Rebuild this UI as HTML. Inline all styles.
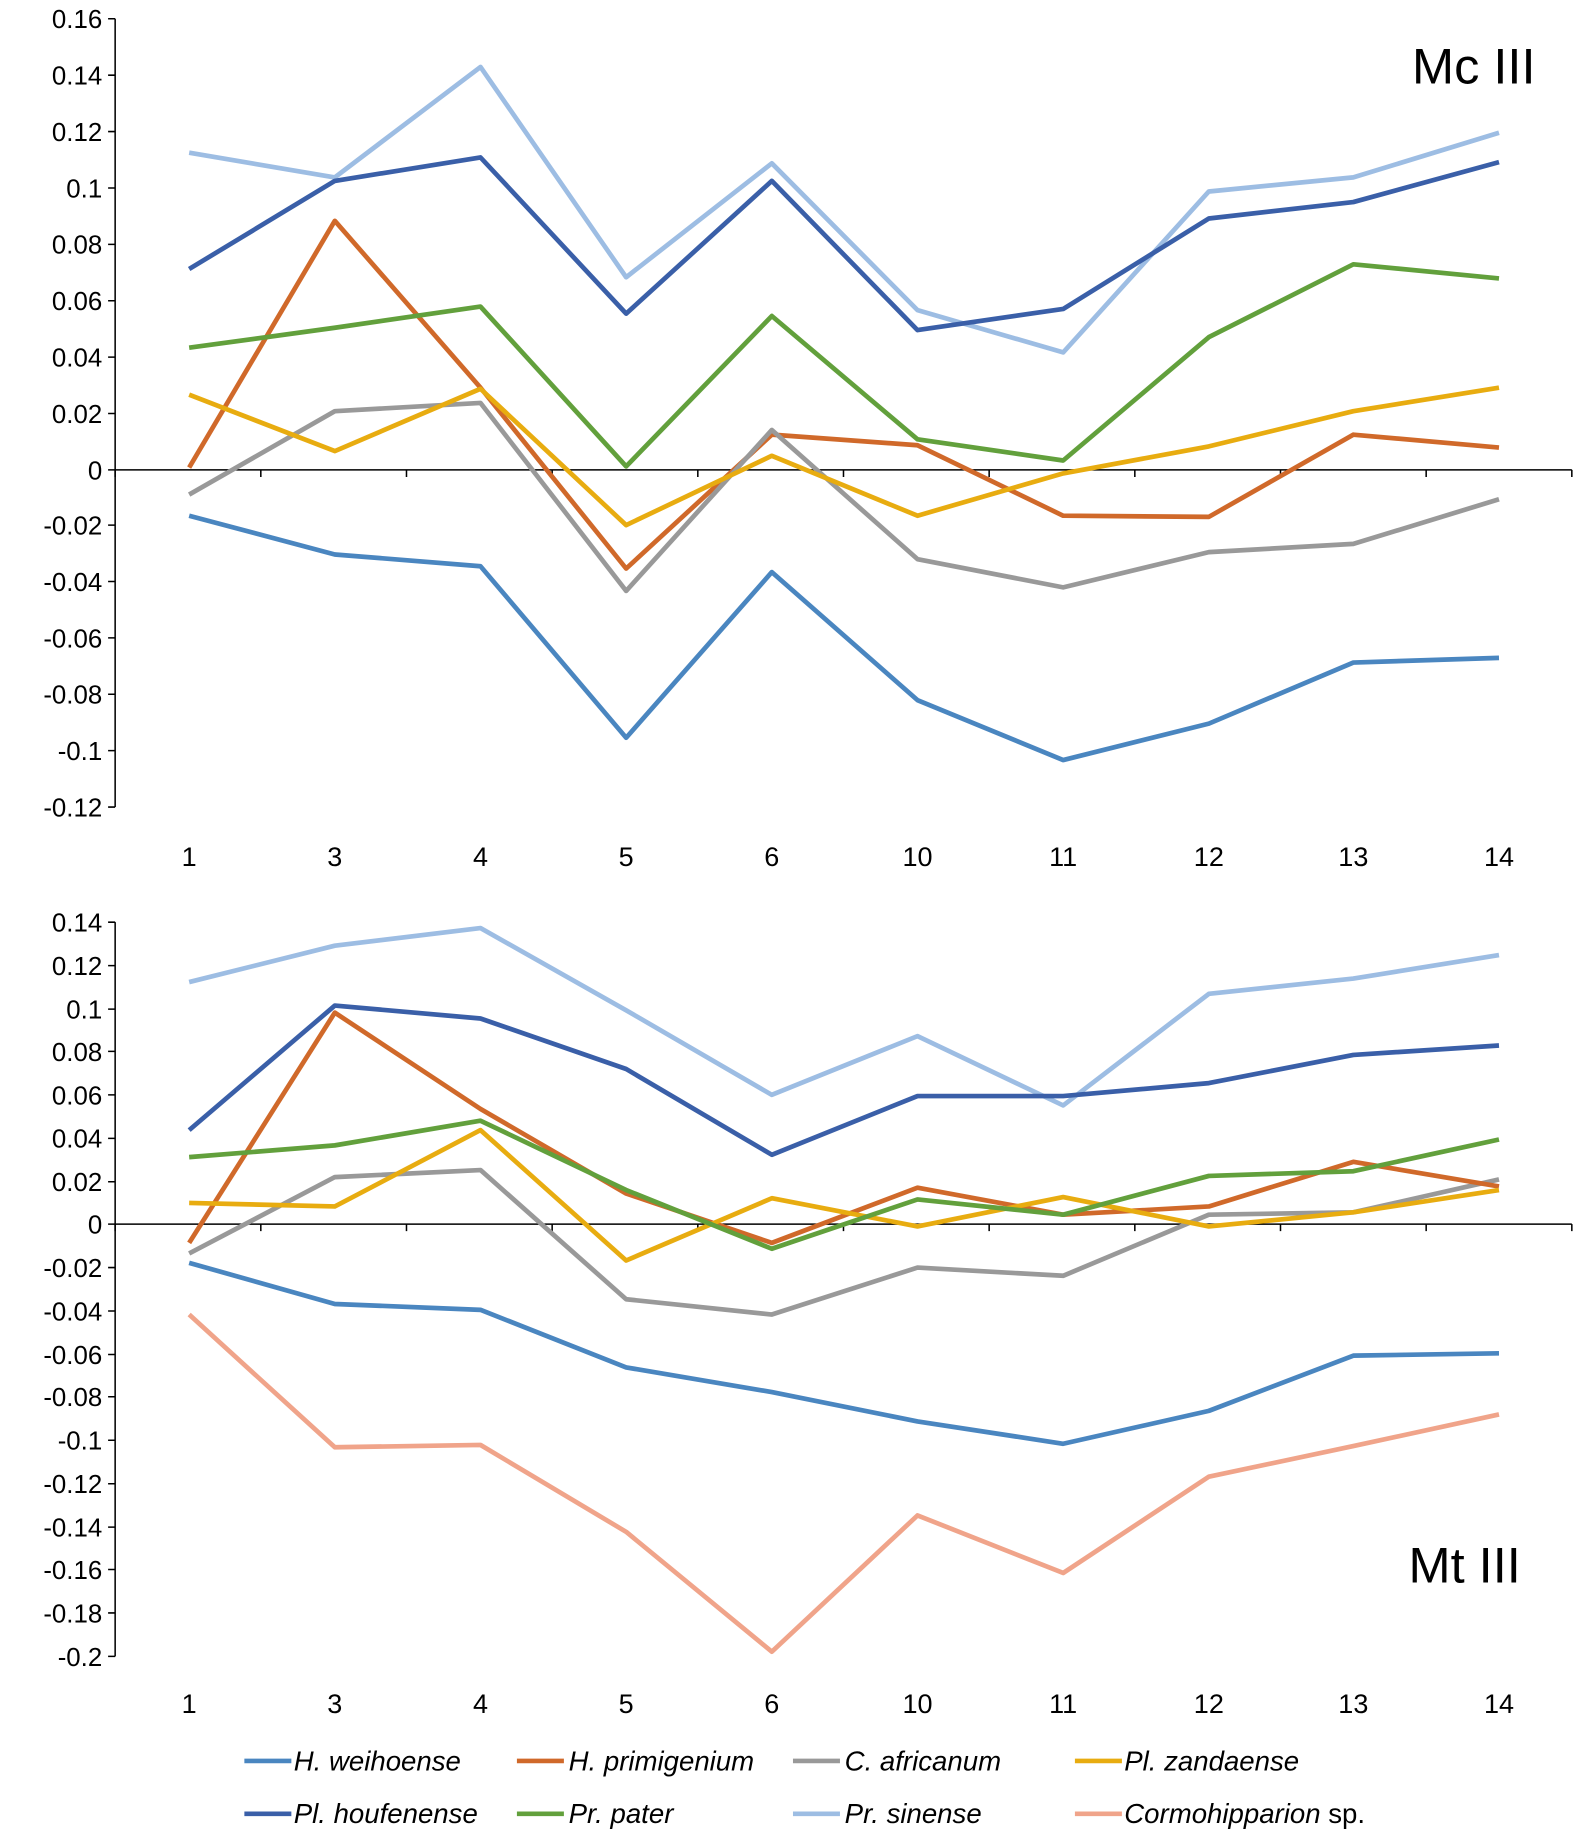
<!DOCTYPE html>
<html><head><meta charset="utf-8"><style>html,body{margin:0;padding:0;background:#fff}svg{display:block}</style></head>
<body>
<svg width="1593" height="1842" viewBox="0 0 1356 1568" xmlns="http://www.w3.org/2000/svg" font-family="Liberation Sans, sans-serif">
<g stroke="#000" stroke-width="1.3" fill="none">
<line x1="98" y1="16" x2="98" y2="687"/>
<line x1="98" y1="400" x2="1338" y2="400"/>
<line x1="98" y1="785" x2="98" y2="1410"/>
<line x1="98" y1="1042" x2="1338" y2="1042"/>
</g>
<g stroke="#000" stroke-width="1.3">
<path d="M92 16h6M92 64h6M92 112h6M92 160h6M92 208h6M92 256h6M92 304h6M92 352h6M92 400h6M92 447h6M92 495h6M92 543h6M92 591h6M92 639h6M92 687h6"/>
<path d="M98 400v6M222 400v6M346 400v6M470 400v6M594 400v6M718 400v6M842 400v6M966 400v6M1090 400v6M1214 400v6M1338 400v6"/>
<path d="M92 785h6M92 822h6M92 859h6M92 895h6M92 932h6M92 969h6M92 1006h6M92 1042h6M92 1079h6M92 1116h6M92 1153h6M92 1189h6M92 1226h6M92 1263h6M92 1300h6M92 1336h6M92 1373h6M92 1410h6"/>
<path d="M98 1042v6M222 1042v6M346 1042v6M470 1042v6M594 1042v6M718 1042v6M842 1042v6M966 1042v6M1090 1042v6M1214 1042v6M1338 1042v6"/>
</g>
<g font-size="22" text-anchor="end" fill="#000">
<text x="87" y="24">0.16</text><text x="87" y="72">0.14</text><text x="87" y="120">0.12</text><text x="87" y="168">0.1</text><text x="87" y="216">0.08</text><text x="87" y="264">0.06</text><text x="87" y="312">0.04</text><text x="87" y="360">0.02</text><text x="87" y="408">0</text><text x="87" y="455">-0.02</text><text x="87" y="503">-0.04</text><text x="87" y="551">-0.06</text><text x="87" y="599">-0.08</text><text x="87" y="647">-0.1</text><text x="87" y="695">-0.12</text>
<text x="87" y="793">0.14</text><text x="87" y="830">0.12</text><text x="87" y="867">0.1</text><text x="87" y="903">0.08</text><text x="87" y="940">0.06</text><text x="87" y="977">0.04</text><text x="87" y="1014">0.02</text><text x="87" y="1050">0</text><text x="87" y="1087">-0.02</text><text x="87" y="1124">-0.04</text><text x="87" y="1161">-0.06</text><text x="87" y="1197">-0.08</text><text x="87" y="1234">-0.1</text><text x="87" y="1271">-0.12</text><text x="87" y="1308">-0.14</text><text x="87" y="1344">-0.16</text><text x="87" y="1381">-0.18</text><text x="87" y="1418">-0.2</text>
</g>
<g font-size="23" text-anchor="middle">
<text x="161" y="737">1</text><text x="285" y="737">3</text><text x="409" y="737">4</text><text x="533" y="737">5</text><text x="657" y="737">6</text><text x="781" y="737">10</text><text x="905" y="737">11</text><text x="1029" y="737">12</text><text x="1152" y="737">13</text><text x="1276" y="737">14</text>
<text x="161" y="1458">1</text><text x="285" y="1458">3</text><text x="409" y="1458">4</text><text x="533" y="1458">5</text><text x="657" y="1458">6</text><text x="781" y="1458">10</text><text x="905" y="1458">11</text><text x="1029" y="1458">12</text><text x="1152" y="1458">13</text><text x="1276" y="1458">14</text>
</g>
<text x="1202" y="71" font-size="43">Mc III</text>
<text x="1199" y="1347" font-size="43">Mt III</text>
<g fill="none" stroke-width="4" stroke-linejoin="round">
<polyline stroke="#4a86c0" points="161,439 285,472 409,482 533,628 657,487 781,596 905,647 1029,616 1152,564 1276,560"/>
<polyline stroke="#d0692a" points="161,398 285,188 409,330 533,484 657,370 781,379 905,439 1029,440 1152,370 1276,381"/>
<polyline stroke="#999" points="161,421 285,350 409,343 533,503 657,366 781,476 905,500 1029,470 1152,463 1276,425"/>
<polyline stroke="#e8ac10" points="161,336 285,384 409,331 533,447 657,388 781,439 905,403 1029,380 1152,350 1276,330"/>
<polyline stroke="#9dbde3" points="161,130 285,151 409,57 533,236 657,139 781,264 905,300 1029,163 1152,151 1276,113"/>
<polyline stroke="#3a5fa8" points="161,229 285,154 409,134 533,267 657,154 781,281 905,263 1029,186 1152,172 1276,138"/>
<polyline stroke="#62a03c" points="161,296 285,279 409,261 533,397 657,269 781,374 905,392 1029,287 1152,225 1276,237"/>

<polyline stroke="#f0a48a" points="161,1119 285,1232 409,1230 533,1304 657,1406 781,1290 905,1339 1029,1257 1152,1231 1276,1204"/>
<polyline stroke="#4a86c0" points="161,1075 285,1110 409,1115 533,1164 657,1185 781,1210 905,1229 1029,1201 1152,1154 1276,1152"/>
<polyline stroke="#999" points="161,1067 285,1002 409,996 533,1106 657,1119 781,1079 905,1086 1029,1034 1152,1032 1276,1004"/>
<polyline stroke="#d0692a" points="161,1058 285,862 409,944 533,1016 657,1058 781,1011 905,1034 1029,1027 1152,989 1276,1010"/>
<polyline stroke="#e8ac10" points="161,1024 285,1027 409,962 533,1073 657,1020 781,1044 905,1019 1029,1044 1152,1032 1276,1013"/>
<polyline stroke="#62a03c" points="161,985 285,975 409,954 533,1013 657,1063 781,1021 905,1034 1029,1001 1152,997 1276,970"/>
<polyline stroke="#9dbde3" points="161,836 285,805 409,790 533,860 657,932 781,882 905,941 1029,846 1152,833 1276,813"/>
<polyline stroke="#3a5fa8" points="161,962 285,856 409,867 533,910 657,983 781,933 905,933 1029,922 1152,898 1276,890"/>
</g>
<g stroke-width="4">
<line x1="208" y1="1499" x2="248" y2="1499" stroke="#4a86c0"/>
<line x1="440" y1="1499" x2="480" y2="1499" stroke="#d0692a"/>
<line x1="675" y1="1499" x2="715" y2="1499" stroke="#999"/>
<line x1="915" y1="1499" x2="955" y2="1499" stroke="#e8ac10"/>
<line x1="208" y1="1544" x2="248" y2="1544" stroke="#3a5fa8"/>
<line x1="440" y1="1544" x2="480" y2="1544" stroke="#62a03c"/>
<line x1="675" y1="1544" x2="715" y2="1544" stroke="#9dbde3"/>
<line x1="915" y1="1544" x2="955" y2="1544" stroke="#f0a48a"/>
</g>
<g font-size="23.5" font-style="italic">
<text x="250" y="1507">H. weihoense</text>
<text x="484" y="1507">H. primigenium</text>
<text x="719" y="1507">C. africanum</text>
<text x="957" y="1507">Pl. zandaense</text>
<text x="250" y="1552">Pl. houfenense</text>
<text x="484" y="1552">Pr. pater</text>
<text x="719" y="1552">Pr. sinense</text>
<text x="957" y="1552">Cormohipparion <tspan font-style="normal">sp.</tspan></text>
</g>
</svg>
</body></html>
